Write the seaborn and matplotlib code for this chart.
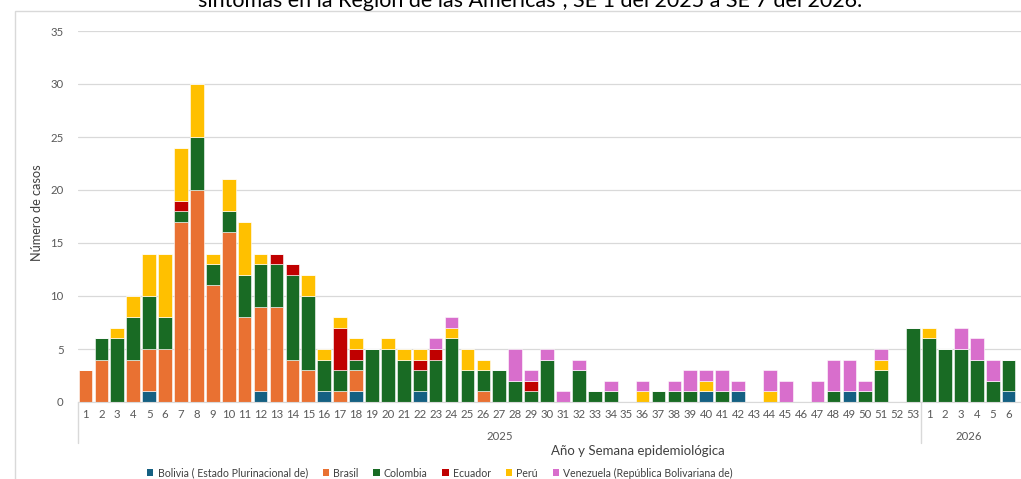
import numpy as np
import pandas as pd
import matplotlib
matplotlib.use('Agg')
import matplotlib.pyplot as plt
import matplotlib.transforms as mtransforms
from matplotlib.patches import Rectangle
import seaborn as sns

# semanas epidemiológicas: 2025 (SE 1-53) y 2026 (SE 1-6)
week_labels = [str(w) for w in range(1, 54)] + ['1', '2', '3', '4', '5', '6']

bolivia = [0, 0, 0, 0, 1, 0, 0, 0, 0, 0,
           0, 1, 0, 0, 0, 1, 0, 1, 0, 0,
           0, 1, 0, 0, 0, 0, 0, 0, 0, 0,
           0, 0, 0, 0, 0, 0, 0, 0, 0, 1,
           0, 1, 0, 0, 0, 0, 0, 0, 1, 0,
           0, 0, 0,
           0, 0, 0, 0, 0, 1]
brasil = [3, 4, 0, 4, 4, 5, 17, 20, 11, 16,
          8, 8, 9, 4, 3, 0, 1, 2, 0, 0,
          0, 0, 0, 0, 0, 1, 0, 0, 0, 0,
          0, 0, 0, 0, 0, 0, 0, 0, 0, 0,
          0, 0, 0, 0, 0, 0, 0, 0, 0, 0,
          0, 0, 0,
          0, 0, 0, 0, 0, 0]
colombia = [0, 2, 6, 4, 5, 3, 1, 5, 2, 2,
            4, 4, 4, 8, 7, 3, 2, 1, 5, 5,
            4, 2, 4, 6, 3, 2, 3, 2, 1, 4,
            0, 3, 1, 1, 0, 0, 1, 1, 1, 0,
            1, 0, 0, 0, 0, 0, 0, 1, 0, 1,
            3, 0, 7,
            6, 5, 5, 4, 2, 3]
ecuador = [0, 0, 0, 0, 0, 0, 1, 0, 0, 0,
           0, 0, 1, 1, 0, 0, 4, 1, 0, 0,
           0, 1, 1, 0, 0, 0, 0, 0, 1, 0,
           0, 0, 0, 0, 0, 0, 0, 0, 0, 0,
           0, 0, 0, 0, 0, 0, 0, 0, 0, 0,
           0, 0, 0,
           0, 0, 0, 0, 0, 0]
peru = [0, 0, 1, 2, 4, 6, 5, 5, 1, 3,
        5, 1, 0, 0, 2, 1, 1, 1, 0, 1,
        1, 1, 0, 1, 2, 1, 0, 0, 0, 0,
        0, 0, 0, 0, 0, 1, 0, 0, 0, 1,
        0, 0, 0, 1, 0, 0, 0, 0, 0, 0,
        1, 0, 0,
        1, 0, 0, 0, 0, 0]
venezuela = [0, 0, 0, 0, 0, 0, 0, 0, 0, 0,
             0, 0, 0, 0, 0, 0, 0, 0, 0, 0,
             0, 0, 1, 1, 0, 0, 0, 3, 1, 1,
             1, 1, 0, 1, 0, 1, 0, 1, 2, 1,
             2, 1, 0, 2, 2, 0, 2, 3, 3, 1,
             1, 0, 0,
             0, 0, 2, 2, 2, 0]

countries = ['Bolivia ( Estado Plurinacional de)', 'Brasil', 'Colombia',
             'Ecuador', 'Perú', 'Venezuela (República Bolivariana de)']
colors = ['#156082', '#E97132', '#196B24', '#C00000', '#FFC000', '#D86ECC']
series = [bolivia, brasil, colombia, ecuador, peru, venezuela]

# tabla larga para seaborn
rows = []
for name, vals in zip(countries, series):
    for i, v in enumerate(vals):
        rows.append({'pos': i, 'pais': name, 'casos': v})
df = pd.DataFrame(rows)

sns.set_style('white')
plt.rcParams['font.family'] = ['Lato', 'DejaVu Sans']

W, H = 1021, 479
fig = plt.figure(figsize=(W / 100, H / 100), dpi=100)
ax = fig.add_axes([77.5 / W, 1 - 402 / H, 1 - 77.5 / W, (402 - 31) / H])

# seaborn apila el primer nivel arriba -> orden invertido
sns.histplot(data=df, x='pos', weights='casos', hue='pais',
             hue_order=countries[::-1], palette=dict(zip(countries, colors)),
             multiple='stack', discrete=True, shrink=0.86,
             edgecolor='white', linewidth=0.4, alpha=1, legend=False, ax=ax)

ax.set_ylim(0, 35)
ax.set_xlim(-0.5, 58.78)
ax.set_yticks(range(0, 36, 5))
ax.set_xticks(range(len(week_labels)))
ax.set_xticklabels(week_labels)
ax.yaxis.grid(True, color='#D9D9D9', lw=0.9)
ax.set_axisbelow(True)
ax.tick_params(axis='both', length=0, labelsize=8.2, colors='#595959')
ax.tick_params(axis='x', pad=5)
ax.tick_params(axis='y', pad=10)
ax.set_xlabel('')
ax.set_ylabel('')
for s in ['top', 'right', 'left']:
    ax.spines[s].set_visible(False)
ax.spines['bottom'].set_color('#D9D9D9')

# separadores de año del eje de categorías
trans = mtransforms.blended_transform_factory(ax.transData, ax.transAxes)
for xs in [-0.5, 52.5]:
    ax.plot([xs, xs], [0, -41 / 371], transform=trans, color='#D9D9D9',
            lw=1, clip_on=False)
ax.text(26, -35 / 371, '2025', transform=trans, ha='center', va='center',
        fontsize=8.2, color='#595959')
ax.text(55.5, -35 / 371, '2026', transform=trans, ha='center', va='center',
        fontsize=8.2, color='#595959')

fig.text(638 / W, 1 - 451 / H, 'Año y Semana epidemiológica', ha='center',
         va='center', fontsize=9.5, color='#404040')
fig.text(37 / W, 1 - 213 / H, 'Número de casos', rotation=90, ha='center',
         va='center', fontsize=9.2, color='#404040')

fig.text(530 / W, 1 - 7 / H,
         'síntomas en la Región de las Américas¹, SE 1 del 2025 a SE 7 del 2026.',
         ha='center', va='baseline', fontsize=15.5, color='black')

# marco del gráfico
fig.add_artist(Rectangle((15 / W, -0.1), 1.2, 1.1 - 11 / H, fill=False,
                         edgecolor='#D9D9D9', lw=1, transform=fig.transFigure))

handles = [Rectangle((0, 0), 1, 1, facecolor=c, edgecolor='none') for c in colors]
fig.legend(handles, countries, loc='center', ncol=6,
           bbox_to_anchor=(440 / W, 1 - 473 / H), frameon=False,
           fontsize=7.6, handlelength=0.6, handleheight=0.6,
           handletextpad=0.4, columnspacing=1.4, labelcolor='#404040')

fig.savefig('out.png', dpi=100)
